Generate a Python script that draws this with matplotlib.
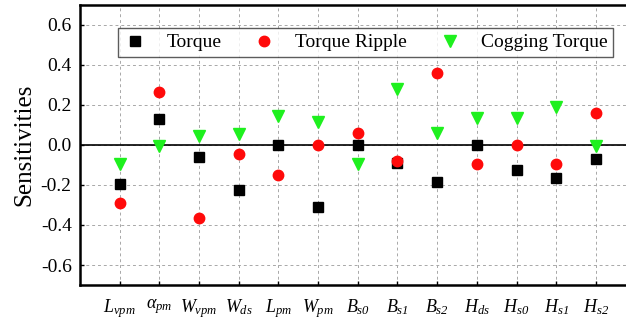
import matplotlib.pyplot as plt
import numpy as np

plt.rcParams['font.family'] = 'Liberation Serif'
plt.rcParams['mathtext.fontset'] = 'custom'
plt.rcParams['mathtext.it'] = 'Liberation Serif:italic'
plt.rcParams['mathtext.rm'] = 'Liberation Serif:italic'

# ── data ──────────────────────────────────────────────────────────────────────
params = [r'$L_{vpm}$', r'$\alpha_{pm}$', r'$W_{vpm}$', r'$W_{ds}$', r'$L_{pm}$',
          r'$W_{pm}$', r'$B_{s0}$', r'$B_{s1}$', r'$B_{s2}$', r'$H_{ds}$',
          r'$H_{s0}$', r'$H_{s1}$', r'$H_{s2}$']
torque = [-0.193, 0.128, -0.062, -0.223, 0.0, -0.312, 0.0,
          -0.09, -0.185, 0.0, -0.125, -0.167, -0.072]
ripple = [-0.288, 0.263, -0.365, -0.047, -0.152, 0.0, 0.06,
          -0.078, 0.358, -0.093, 0.0, -0.095, 0.158]
cogging = [-0.093, -0.003, 0.045, 0.055, 0.145, 0.117, -0.097,
           0.278, 0.058, 0.137, 0.133, 0.19, -0.003]
yticks = [-0.6, -0.4, -0.2, 0.0, 0.2, 0.4, 0.6]

# ── figure ────────────────────────────────────────────────────────────────────
fig = plt.figure(figsize=(6.26, 3.22), dpi=100)
ax = fig.add_axes([0.1278, 0.1149, 0.8875, 0.8696])

x = np.arange(len(params))
ax.axhline(0, color='black', lw=1.2, zorder=1)

ax.plot(x, torque, 's', color='black', ms=6.5, label='Torque', zorder=3)
ax.plot(x, ripple, 'o', color='#ff0a0a', ms=7.5, label='Torque Ripple', zorder=4)
ax.plot(x, cogging, 'v', color='#1ef01e', ms=8, label='Cogging Torque', zorder=5)

ax.set_xlim(-1, 13)
ax.set_ylim(-0.7, 0.7)
ax.set_xticks(x)
ax.set_xticklabels(params, fontsize=13)
ax.set_yticks(yticks)
ax.set_yticklabels([f'{v:.1f}' for v in yticks], fontsize=14)
ax.tick_params(axis='both', direction='in', length=3, width=1)
ax.tick_params(axis='x', pad=9)
ax.tick_params(axis='y', pad=6)

ax.grid(True, linestyle=(0, (3, 3)), color='#a8a8a8', lw=0.7)
ax.set_axisbelow(True)
for s in ax.spines.values():
    s.set_linewidth(1.8)

ax.set_ylabel('Sensitivities', fontsize=18, labelpad=4)

leg = ax.legend(loc='upper center', bbox_to_anchor=(0.514, 0.918), ncol=3,
                fontsize=14, frameon=True, fancybox=False, edgecolor='#333333',
                handletextpad=1.0, columnspacing=1.6, borderpad=0.3,
                handlelength=1.2, borderaxespad=0)
leg.get_frame().set_linewidth(1.0)

fig.savefig('out.png', dpi=100, facecolor='white')
